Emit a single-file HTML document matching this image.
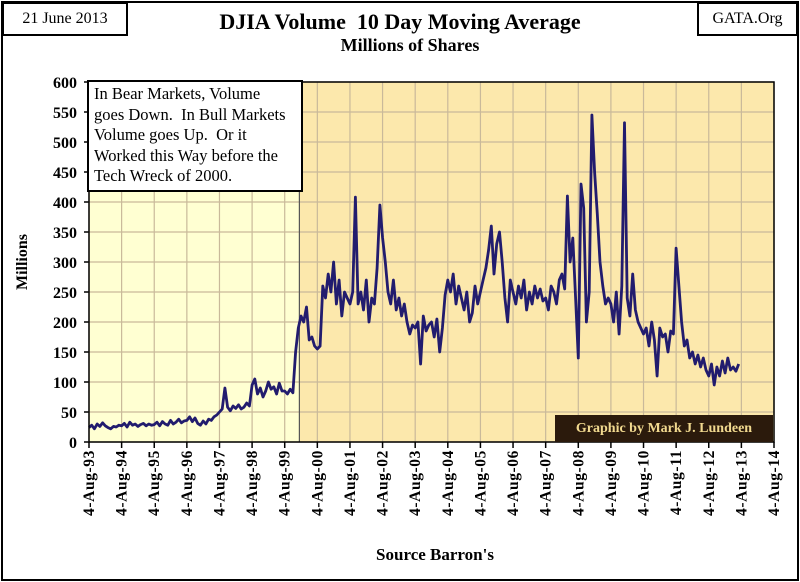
<!DOCTYPE html>
<html><head><meta charset="utf-8"><style>
html,body{margin:0;padding:0;background:#fff}
body{width:800px;height:582px;position:relative;overflow:hidden;font-family:"Liberation Serif",serif}
.frame{position:absolute;left:1px;top:1px;width:794px;height:576px;border:2px solid #000}
.box{position:absolute;border:2px solid #000;background:#fff;color:#000}
</style></head><body>
<div class="frame"></div>
<div class="box" style="left:2px;top:2px;width:122px;height:30px;font-size:16px;line-height:30px;text-align:center">21 June 2013</div>
<div class="box" style="left:697px;top:2px;width:97px;height:30px;font-size:16px;line-height:30px;text-align:center">GATA.Org</div>
<div style="position:absolute;left:0;width:800px;top:9px;text-align:center;font-weight:bold;font-size:22px">DJIA Volume &nbsp;10 Day Moving Average</div>
<div style="position:absolute;left:0;width:800px;top:35px;text-align:center;font-weight:bold;font-size:18px;padding-left:20px;box-sizing:border-box">Millions of Shares</div>
<svg id="chart" width="800" height="582" style="position:absolute;left:0;top:0"></svg>
<div class="box" style="left:87px;top:80px;width:207px;height:106px;font-size:16.5px;line-height:20.5px;padding:2px 0 0 5px;white-space:nowrap">In Bear Markets, Volume<br>goes Down.&nbsp; In Bull Markets<br>Volume goes Up.&nbsp; Or it<br>Worked this Way before the<br>Tech Wreck of 2000.</div>
<div style="position:absolute;left:555px;top:415px;width:218px;height:27px;background:#2b1a0c;color:#f1d98f;font-weight:bold;font-size:14px;line-height:27px;text-align:center">Graphic by Mark J. Lundeen</div>
<div style="position:absolute;left:0;width:800px;top:545px;text-align:center;font-weight:bold;font-size:17px;padding-left:70px;box-sizing:border-box">Source Barron's</div>
<script>
const yTicks=[0,50,100,150,200,250,300,350,400,450,500,550,600];
const xTickLabels=['4-Aug-93','4-Aug-94','4-Aug-95','4-Aug-96','4-Aug-97','4-Aug-98','4-Aug-99','4-Aug-00','4-Aug-01','4-Aug-02','4-Aug-03','4-Aug-04','4-Aug-05','4-Aug-06','4-Aug-07','4-Aug-08','4-Aug-09','4-Aug-10','4-Aug-11','4-Aug-12','4-Aug-13','4-Aug-14'];
const startYear=1993.6;
const stepYears=1/12;
const bullRegionStart=2000.05;
const volumes=[
24,28,22,30,26,32,27,24,22,26,25,28,
27,31,25,33,28,30,26,29,31,27,30,28,
29,33,27,34,30,28,36,30,33,38,32,35,
36,42,34,40,31,28,35,30,38,36,42,45,
50,55,90,58,52,60,56,62,55,58,65,60,
95,105,80,90,75,85,100,88,92,80,98,85,
85,80,88,82,150,190,210,200,225,170,175,160,
155,160,260,240,280,250,300,230,270,210,250,240,
230,250,408,230,250,220,270,200,240,230,290,395,
340,300,250,230,270,220,240,210,230,200,180,195,
190,200,130,210,185,195,200,175,205,150,190,245,
270,250,280,230,260,240,220,250,200,215,260,230,
250,270,290,320,360,280,330,350,300,240,200,270,
250,230,260,240,270,220,250,230,260,240,255,235,
240,220,260,250,230,270,280,255,410,300,340,240,
140,430,390,200,250,545,450,380,300,260,230,240,
230,200,250,180,260,532,240,210,280,220,200,190,
180,190,160,200,170,110,190,175,180,150,185,180,
323,260,200,160,170,140,150,130,145,125,140,120,
110,130,95,125,110,135,115,140,120,125,118,130];
const L=89,R=774,T=82,B=442,X0=1993.6,X1=2014.6;
const xs=t=>L+(t-X0)/(X1-X0)*(R-L);
const ys=v=>B-v/600*(B-T);
const svg=document.getElementById('chart');
const NS='http://www.w3.org/2000/svg';
function mk(tag,attrs){const e=document.createElementNS(NS,tag);for(const k in attrs)e.setAttribute(k,attrs[k]);svg.appendChild(e);return e;}
let r=mk('rect',{x:L,y:T,width:xs(bullRegionStart)-L,height:B-T,fill:'#FFFFD2'});


r=mk('rect',{x:xs(bullRegionStart),y:T,width:R-xs(bullRegionStart),height:B-T,fill:'#FCE8AC'});


yTicks.forEach(v=>{
 const g=mk('line',{x1:L,x2:R,y1:ys(v),y2:ys(v),stroke:'#C9B99A','stroke-width':1.2});
 
 
 const t=mk('text',{x:L-12,y:ys(v)+6,'text-anchor':'end','font-size':16,'font-weight':'bold','font-family':'Liberation Serif, serif'});
 t.textContent=v;
 
 
 mk('line',{x1:L-5,x2:L,y1:ys(v),y2:ys(v),stroke:'#000','stroke-width':1.5});
});
xTickLabels.forEach((lab,i)=>{
 const x=xs(X0+i);
 const g=mk('line',{x1:x,x2:x,y1:T,y2:B,stroke:'#C9B99A','stroke-width':1.2});
 
 
 mk('line',{x1:x,x2:x,y1:B,y2:B+6,stroke:'#000','stroke-width':1.5});
 const t=mk('text',{x:0,y:0,'text-anchor':'end','font-size':15.5,'font-weight':'bold','font-family':'Liberation Serif, serif','letter-spacing':'0.6',transform:`translate(${x+5},${B+8}) rotate(-90)`});
 t.textContent=lab;
 
 
});
let sep=mk('line',{x1:xs(bullRegionStart),x2:xs(bullRegionStart),y1:T,y2:B,stroke:'#555','stroke-width':1.2});


let pts=volumes.map((v,i)=>xs(startYear+i*stepYears).toFixed(1)+','+ys(v).toFixed(1)).join(' ');
const line=mk('polyline',{points:pts,fill:'none',stroke:'#221C6E','stroke-width':2.8,'stroke-linejoin':'round'});


mk('rect',{x:L,y:T,width:R-L,height:B-T,fill:'none',stroke:'#000','stroke-width':1.5});
const yt=mk('text',{x:0,y:0,'text-anchor':'middle','font-size':16,'font-weight':'bold','font-family':'Liberation Serif, serif',transform:'translate(27,262) rotate(-90)'});
yt.textContent='Millions';


</script>
</body></html>
